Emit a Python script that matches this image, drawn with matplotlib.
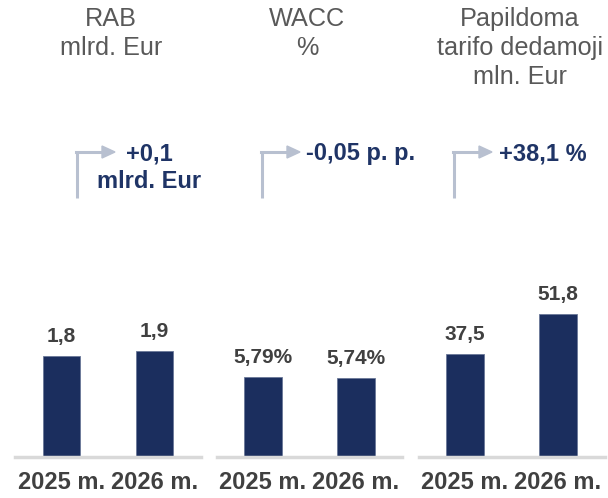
import matplotlib
matplotlib.use("Agg")
import matplotlib.pyplot as plt
from matplotlib.lines import Line2D

plt.rcParams['font.family'] = ['Liberation Sans', 'DejaVu Sans']

# data
years = ["2025 m.", "2026 m."]
rab = [1.8, 1.9]
wacc = [5.79, 5.74]
tariff = [37.5, 51.8]
rab_labels = ["1,8", "1,9"]
wacc_labels = ["5,79%", "5,74%"]
tariff_labels = ["37,5", "51,8"]
titles = [["RAB", "mlrd. Eur"], ["WACC", "%"], ["Papildoma", "tarifo dedamoji", "mln. Eur"]]
deltas = [["+0,1", "mlrd. Eur"], ["-0,05 p. p."], ["+38,1 %"]]

W, H = 608, 498
BAR = "#1b2e5e"
NAVY = "#1f3466"
DARK = "#404040"
GREY = "#595959"
ARROW = "#b8c0d0"

fig = plt.figure(figsize=(W / 100, H / 100), dpi=100)


def fx(x):
    return x / W


def fy(y):
    return 1 - y / H


def panel(left, values, labels, ymax):
    ax = fig.add_axes([fx(left), fy(457), 186 / W, 180 / H])
    x = range(len(values))
    ax.bar(x, values, width=0.4, color=BAR, edgecolor="#6a7898", linewidth=0.6)
    for xi, v, lab in zip(x, values, labels):
        ax.annotate(lab, (xi, v), xytext=(0, 10), textcoords="offset points",
                    ha="center", va="baseline", fontsize=15, fontweight="bold", color=DARK)
    ax.set_xlim(-0.5, 1.5)
    ax.set_ylim(0, ymax)
    ax.set_xticks(list(x))
    ax.set_xticklabels(years, fontsize=17, fontweight="bold", color=DARK)
    ax.tick_params(axis="x", length=0, pad=10)
    ax.set_yticks([])
    for s in ["top", "left", "right"]:
        ax.spines[s].set_visible(False)
    ax.spines["bottom"].set_color("#d9d9d9")
    ax.spines["bottom"].set_linewidth(2.5)
    return ax


panel(15, rab, rab_labels, 3.22)
panel(216.5, wacc, wacc_labels, 13.0)
panel(418.5, tariff, tariff_labels, 65.3)

# titles
title_x = [111, 307, 520]
for tx, lines in zip(title_x, titles):
    for i, line in enumerate(lines):
        fig.text(fx(tx), fy(26 + 29 * i), line, ha="center", va="baseline",
                 fontsize=18.2, color=GREY)

# elbow arrows with change text
arrow_x = [77, 262, 454]
arrow_end = [115, 300, 492]
for ax0, ax1 in zip(arrow_x, arrow_end):
    fig.add_artist(Line2D([fx(ax0), fx(ax0)], [fy(198), fy(152)], color=ARROW, lw=2.2,
                          solid_capstyle="butt"))
    fig.add_artist(Line2D([fx(ax0 - 1), fx(ax1 - 10)], [fy(152), fy(152)], color=ARROW, lw=2.2))
    fig.patches.append(plt.Polygon([[fx(ax1 - 13), fy(146)], [fx(ax1), fy(152)], [fx(ax1 - 13), fy(158)]],
                                   closed=True, color=ARROW, transform=fig.transFigure))

fig.text(fx(149), fy(160), deltas[0][0], ha="center", va="baseline", fontsize=17,
         fontweight="bold", color=NAVY)
fig.text(fx(149), fy(188), deltas[0][1], ha="center", va="baseline", fontsize=17,
         fontweight="bold", color=NAVY)
fig.text(fx(306), fy(160), deltas[1][0], ha="left", va="baseline", fontsize=17,
         fontweight="bold", color=NAVY)
fig.text(fx(499), fy(160), deltas[2][0], ha="left", va="baseline", fontsize=17,
         fontweight="bold", color=NAVY)

fig.savefig("out.png", dpi=100)
